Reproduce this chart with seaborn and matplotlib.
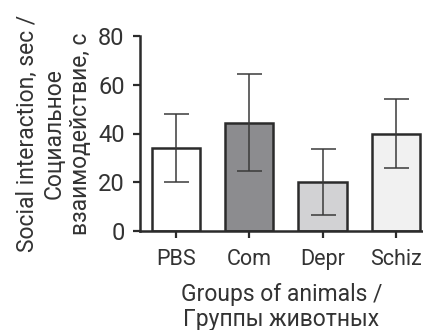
import matplotlib
matplotlib.use("Agg")
import matplotlib.pyplot as plt
import seaborn as sns
import pandas as pd

groups = ["PBS", "Com", "Depr", "Schiz"]
means = [34, 44.5, 20, 40]
errors = [14, 20, 13.5, 14]
fills = ["#ffffff", "#8b8b8f", "#d2d2d4", "#f1f1f1"]

sns.set_style("ticks")
plt.rcParams['font.family'] = ['Roboto', 'DejaVu Sans']

df = pd.DataFrame({"group": groups, "value": means})

fig = plt.figure(figsize=(4.23, 3.30), dpi=100)
ax = fig.add_axes([140/423, 1-231/330, 1-140/423, (231-36)/330])

sns.barplot(data=df, x="group", y="value", hue="group", palette=fills,
            order=groups, hue_order=groups, legend=False, errorbar=None,
            width=0.66, edgecolor="#2b2b2b", linewidth=1.8, ax=ax, zorder=2)
ax.errorbar(range(len(groups)), means, yerr=errors, fmt="none",
            ecolor="#3a3a3a", elinewidth=1.1, capsize=9, capthick=1.1, zorder=3)

ax.set_xlim(-0.49, 3.37)
ax.set_ylim(0, 80)
ax.set_yticks([0, 20, 40, 60, 80])
sns.despine(ax=ax)
for s in ["left", "bottom"]:
    ax.spines[s].set_linewidth(1.8)
    ax.spines[s].set_color("#2b2b2b")
ax.tick_params(axis="both", length=5, width=1.6, color="#2b2b2b",
               labelsize=17, labelcolor="#333333", pad=6)
ax.tick_params(axis="x", labelsize=15.5, pad=8)

ax.set_xlabel("Groups of animals /\nГруппы животных", fontsize=16.5,
              color="#333333", linespacing=1.15, labelpad=9)
ax.set_ylabel("Social interaction, sec /\nСоциальное\nвзаимодействие, с",
              fontsize=16.5, color="#333333", linespacing=1.2, labelpad=4)

fig.savefig("out.png", dpi=100)
